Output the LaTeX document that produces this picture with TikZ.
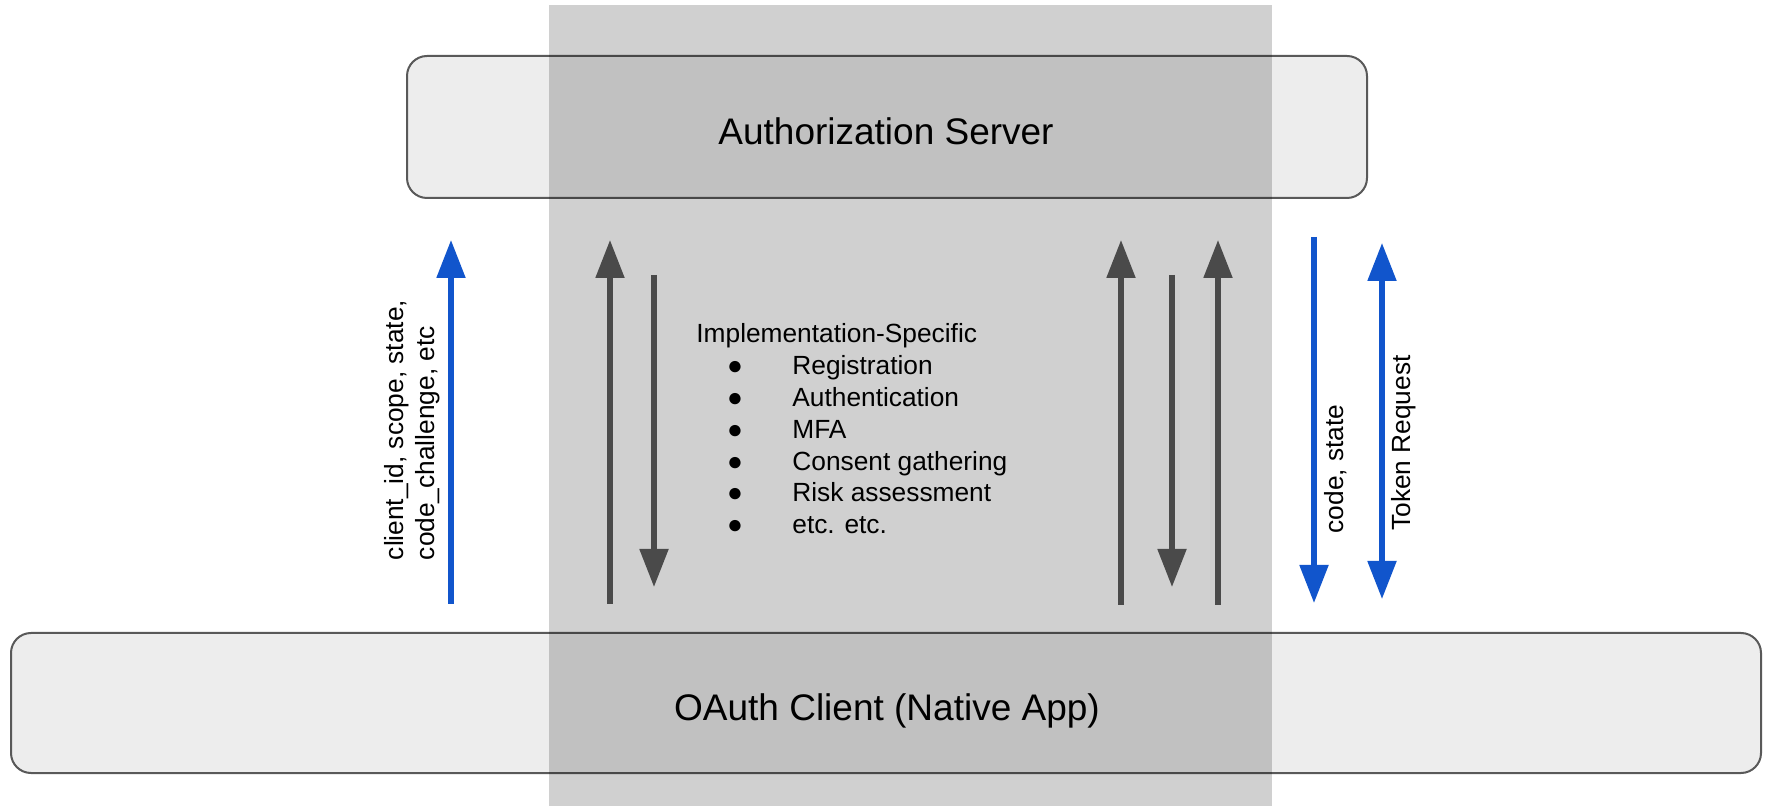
\documentclass[tikz,border=0pt]{standalone}
\usepackage{fontspec}
\setmainfont{Liberation Sans}
\usetikzlibrary{arrows.meta}
\definecolor{boxfill}{HTML}{EDEDED}
\definecolor{boxline}{HTML}{595959}
\definecolor{flowblue}{HTML}{1155CC}
\definecolor{flowgray}{HTML}{4A4A4A}
\begin{document}
\begin{tikzpicture}[x=0.5pt,y=-0.5pt,
  party/.style={draw=boxline, line width=1pt, fill=boxfill, rounded corners=10pt, inner sep=0pt},
  zone/.style={fill=black, fill opacity=0.184, draw=none, inner sep=0pt, minimum width=361.5pt, minimum height=400.5pt},
  bigtext/.style={font=\fontsize{18.5}{22}\selectfont, inner sep=0pt},
  smalltext/.style={font=\fontsize{13.15}{15.5}\selectfont, inner sep=0pt},
  bluearrow/.style={draw=flowblue, line width=2.6pt, -{Triangle[width=14pt,length=19pt]}},
  bluedouble/.style={draw=flowblue, line width=2.6pt, {Triangle[width=14pt,length=19pt]}-{Triangle[width=14pt,length=19pt]}},
  grayarrow/.style={draw=flowgray, line width=2.6pt, -{Triangle[width=14pt,length=19pt]}},
]
\useasboundingbox (0,0) rectangle (1767,806);
\fill[white] (0,0) rectangle (1767,806);

% parties
\node[party, minimum width=480pt, minimum height=71pt] (as) at (887,127) {};
\node[party, minimum width=875pt, minimum height=70pt] (client) at (886,703) {};

% implementation-specific zone
\node[zone] (zonebox) at (910.5,405.5) {};

% titles
\node[bigtext, anchor=base] (astitle) at (886,145) {Authorization Server};
\node[bigtext, anchor=base] (clienttitle) at (887,720) {OAuth Client (Native App)};

% arrow end points
\coordinate (b1s) at (451,604); \coordinate (b1e) at (451,240);
\coordinate (g1s) at (610,604); \coordinate (g1e) at (610,240);
\coordinate (g2s) at (654,275); \coordinate (g2e) at (654,587);
\coordinate (g3s) at (1121,605); \coordinate (g3e) at (1121,240);
\coordinate (g4s) at (1172,275); \coordinate (g4e) at (1172,587);
\coordinate (g5s) at (1218,605); \coordinate (g5e) at (1218,240);
\coordinate (b2s) at (1314,237); \coordinate (b2e) at (1314,603);
\coordinate (b3s) at (1382,243); \coordinate (b3e) at (1382,599);

\draw[bluearrow] (b1s) -- (b1e);
\draw[grayarrow] (g1s) -- (g1e);
\draw[grayarrow] (g2s) -- (g2e);
\draw[grayarrow] (g3s) -- (g3e);
\draw[grayarrow] (g4s) -- (g4e);
\draw[grayarrow] (g5s) -- (g5e);
\draw[bluearrow] (b2s) -- (b2e);
\draw[bluedouble] (b3s) -- (b3e);

% arrow labels
\node[smalltext, rotate=90, align=left] (reqlabel) at (412,430) {client\_id, scope, state,\\code\_challenge, etc};
\node[smalltext, rotate=90] (codelabel) at (1336,469) {code, state};
\node[smalltext, rotate=90] (toklabel) at (1404,443) {Token Request};

% list
\node[smalltext, anchor=base west] (lhead) at (696,343) {Implementation-Specific};
\foreach \t [count=\i] in {Registration,Authentication,MFA,Consent gathering,Risk assessment,etc. etc.}{
  \node[smalltext, anchor=base] (bul\i) at (735,{343+31.8*\i}) {●};
  \node[smalltext, anchor=base west] (item\i) at (792,{343+31.8*\i}) {\t};
}
\end{tikzpicture}
\end{document}
